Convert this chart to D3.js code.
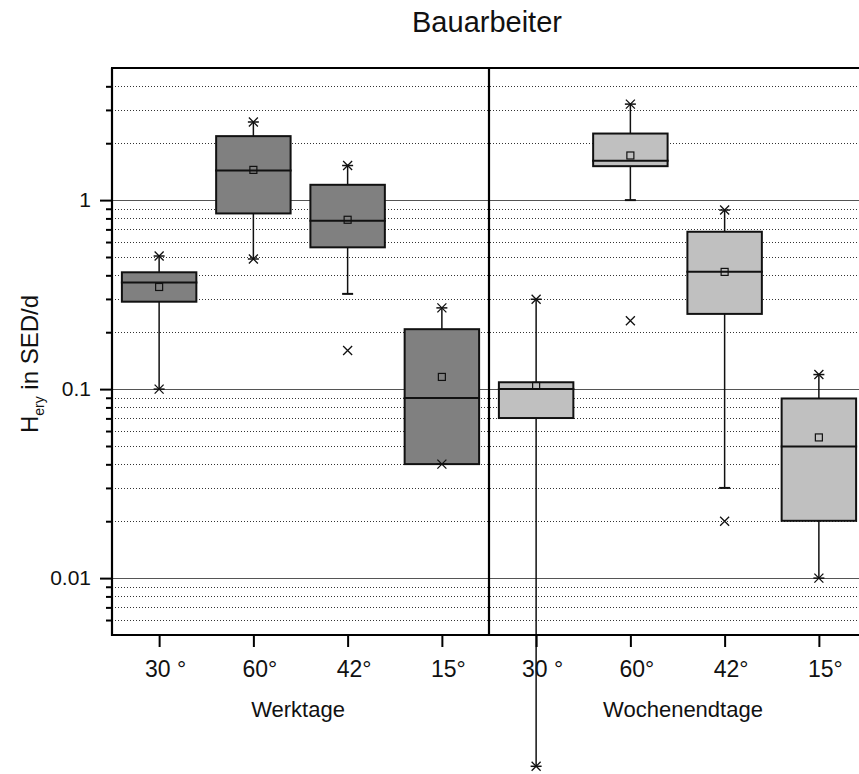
<!DOCTYPE html>
<html>
<head>
<meta charset="utf-8">
<script src="https://cdn.jsdelivr.net/npm/d3@7"></script>
<style>
  html, body { margin: 0; padding: 0; background: #fff; }
  svg { display: block; font-family: Arial, "Liberation Sans", sans-serif; }
</style>
</head>
<body>
<svg id="chart" width="859" height="774"></svg>
<script>
// Categories (tilt angles) and day groups
const categories = ["30 °", "60°", "42°", "15°"];
const groups = ["Werktage", "Wochenendtage"];
const boxFills = ["#808080", "#c0c0c0"];

// Box statistics, 4 Werktage boxes followed by 4 Wochenendtage boxes (SED/d)
const q1Values     = [0.29,  0.85,  0.5625, 0.0401, 0.0703,  1.512, 0.25,  0.0201];
const medianValues = [0.367, 1.436, 0.778,  0.0896, 0.100,   1.613, 0.418, 0.0497];
const q3Values     = [0.415, 2.18,  1.205,  0.2075, 0.1087,  2.25,  0.68,  0.0892];
const meanValues   = [0.347, 1.445, 0.787,  0.116,  0.104,   1.722, 0.417, 0.0555];
const whiskerLow   = [0.100, 0.488, 0.319,  0.0401, 0.00101, 1.00,  0.030, 0.0100];
const whiskerHigh  = [0.506, 2.59,  1.524,  0.269,  0.2988,  3.22,  0.886, 0.1194];
// Marker shown at each whisker end: "star" (x with bar) or "cap" (bar only)
const lowMarks     = ["star", "star", "cap", "star", "star", "cap", "cap", "star"];
const highMarks    = ["star", "star", "star", "star", "star", "star", "star", "star"];
// Extra single points drawn as x
const outliers     = [[], [], [0.16], [], [], [0.23], [0.02], []];

// Y axis labels
const yTickValues = [0.01, 0.1, 1];
const yTickLabels = ["0.01", "0.1", "1"];

const svg = d3.select("#chart");
const margin = { left: 112, top: 68, bottom: 635 };
const plotRight = 866;

const y = d3.scaleLog().domain([0.005, 5]).range([margin.bottom, margin.top]);
const idx = d3.range(categories.length * groups.length);
const x = d3.scaleBand().domain(idx).range([margin.left, plotRight]).padding(0);
const step = x.bandwidth();
const boxW = step * 0.79;
const cx = i => x(i) + step / 2;

// Minor (dotted) and major (solid) grid lines
const minorVals = [];
[0.001, 0.01, 0.1, 1].forEach(d => { for (let k = 2; k <= 9; k++) { const v = d * k; if (v > 0.005 && v < 5) minorVals.push(v); } });
const grid = svg.append("g");
grid.selectAll("line.minor").data(minorVals).join("line")
  .attr("x1", margin.left).attr("x2", plotRight)
  .attr("y1", d => Math.round(y(d)) + 0.5).attr("y2", d => Math.round(y(d)) + 0.5)
  .attr("stroke", "#333").attr("stroke-width", 1).attr("stroke-dasharray", "1,2");
grid.selectAll("line.major").data(yTickValues).join("line")
  .attr("x1", margin.left).attr("x2", plotRight)
  .attr("y1", d => Math.round(y(d)) + 0.5).attr("y2", d => Math.round(y(d)) + 0.5)
  .attr("stroke", "#555").attr("stroke-width", 1.2);

// Boxes
const boxes = svg.append("g");
idx.forEach(i => {
  const g = boxes.append("g");
  const c = cx(i);
  const fill = boxFills[Math.floor(i / categories.length)];
  // whiskers
  g.append("line").attr("x1", c).attr("x2", c)
    .attr("y1", y(whiskerHigh[i])).attr("y2", y(q3Values[i]))
    .attr("stroke", "#111").attr("stroke-width", 1.5);
  g.append("line").attr("x1", c).attr("x2", c)
    .attr("y1", y(q1Values[i])).attr("y2", y(whiskerLow[i]))
    .attr("stroke", "#111").attr("stroke-width", 1.5);
  // box
  g.append("rect")
    .attr("x", c - boxW / 2).attr("width", boxW)
    .attr("y", y(q3Values[i])).attr("height", y(q1Values[i]) - y(q3Values[i]))
    .attr("fill", fill).attr("stroke", "#111").attr("stroke-width", 2);
  // median
  g.append("line").attr("x1", c - boxW / 2 - 1).attr("x2", c + boxW / 2 + 1)
    .attr("y1", y(medianValues[i])).attr("y2", y(medianValues[i]))
    .attr("stroke", "#111").attr("stroke-width", 2);
  // mean
  g.append("rect").attr("x", c - 3.5).attr("y", y(meanValues[i]) - 3.5)
    .attr("width", 7).attr("height", 7)
    .attr("fill", "none").attr("stroke", "#111").attr("stroke-width", 1.2);
  // whisker-end markers
  const drawX = yy => {
    g.append("path")
      .attr("d", `M${c - 4.5},${yy - 4.5}L${c + 4.5},${yy + 4.5}M${c - 4.5},${yy + 4.5}L${c + 4.5},${yy - 4.5}`)
      .attr("stroke", "#111").attr("stroke-width", 1.3).attr("fill", "none");
  };
  const drawMark = (v, type) => {
    const yy = y(v);
    g.append("line").attr("x1", c - 5.5).attr("x2", c + 5.5).attr("y1", yy).attr("y2", yy)
      .attr("stroke", "#111").attr("stroke-width", type === "cap" ? 2 : 1.5);
    if (type === "star") drawX(yy);
  };
  drawMark(whiskerLow[i], lowMarks[i]);
  drawMark(whiskerHigh[i], highMarks[i]);
  outliers[i].forEach(v => drawX(y(v)));
});

// Frame: left axis, bottom axis, top border, panel divider
const frame = svg.append("g").attr("stroke", "#000").attr("stroke-width", 2.2);
frame.append("line").attr("x1", margin.left).attr("x2", margin.left).attr("y1", margin.top).attr("y2", margin.bottom + 1);
frame.append("line").attr("x1", margin.left - 1).attr("x2", plotRight).attr("y1", margin.bottom).attr("y2", margin.bottom);
frame.append("line").attr("x1", margin.left - 1).attr("x2", plotRight).attr("y1", margin.top).attr("y2", margin.top);
frame.append("line").attr("x1", x(categories.length)).attr("x2", x(categories.length))
  .attr("y1", margin.top).attr("y2", margin.bottom);

// Y axis ticks
const yAxis = d3.axisLeft(y)
  .tickValues(yTickValues.concat(minorVals))
  .tickFormat(d => { const k = yTickValues.indexOf(d); return k >= 0 ? yTickLabels[k] : ""; })
  .tickSizeOuter(0);
const ya = svg.append("g").attr("transform", `translate(${margin.left},0)`).call(yAxis);
ya.select(".domain").remove();
ya.selectAll(".tick line")
  .attr("x2", d => yTickValues.includes(d) ? -12 : -6)
  .attr("stroke", "#000").attr("stroke-width", 2);
ya.selectAll(".tick text").attr("x", -21).attr("font-size", 21)
  .attr("font-family", "Arial, 'Liberation Sans', sans-serif").attr("fill", "#111");

// X axis ticks and category labels
const xAxis = d3.axisBottom(d3.scaleLinear().domain([margin.left, plotRight]).range([margin.left, plotRight]))
  .tickValues(idx.map(cx))
  .tickFormat((d, k) => categories[k % categories.length])
  .tickSize(12).tickSizeOuter(0);
const xa = svg.append("g").attr("transform", `translate(0,${margin.bottom})`).call(xAxis);
xa.select(".domain").remove();
xa.selectAll(".tick line").attr("stroke", "#000").attr("stroke-width", 2);
xa.selectAll(".tick text").attr("y", 26).attr("dx", 6).attr("font-size", 23)
  .attr("font-family", "Arial, 'Liberation Sans', sans-serif").attr("fill", "#111");

// Group labels
const groupCenters = [298, 683];
svg.append("g").selectAll("text").data(groups).join("text")
  .attr("x", (d, k) => groupCenters[k]).attr("y", 717)
  .attr("text-anchor", "middle").attr("font-size", 22).attr("fill", "#111")
  .text(d => d);

// Title
svg.append("text").attr("x", 487).attr("y", 32).attr("text-anchor", "middle")
  .attr("font-size", 29).attr("fill", "#111").text("Bauarbeiter");

// Y axis title with subscript
const yt = svg.append("text")
  .attr("transform", "translate(38,364) rotate(-90)")
  .attr("text-anchor", "middle").attr("font-size", 24).attr("fill", "#111");
yt.append("tspan").text("H");
yt.append("tspan").attr("font-size", 14).attr("dy", 6).text("ery");
yt.append("tspan").attr("dy", -6).text(" in SED/d");
</script>
</body>
</html>
